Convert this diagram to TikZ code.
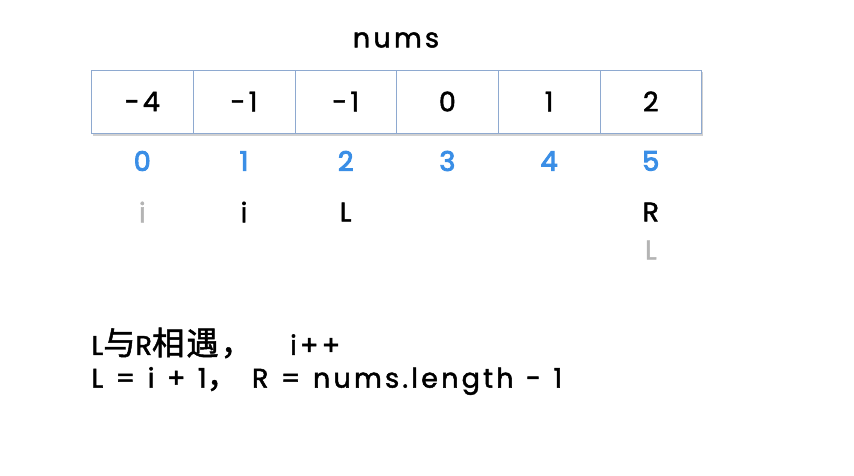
\documentclass[tikz,border=0pt]{standalone}
\usepackage{fontspec}
\setmainfont{Poppins}[LetterSpace=12, WordSpace=1.2, FakeBold=1.8, BoldFont=Poppins, BoldFeatures={FakeBold=3.5}]
\newfontfamily\cjk{Noto Sans CJK SC}[FakeBold=1.5, Scale=1.2, LetterSpace=6]
\usetikzlibrary{positioning,calc}
\definecolor{cellline}{HTML}{8EA9D0}
\definecolor{idxblue}{HTML}{3A8EE6}
\definecolor{ghost}{HTML}{B4B4B4}

\begin{document}
\begin{tikzpicture}[x=1pt, y=-1pt, node distance=10pt]
	\tikzstyle{cell}=[draw=cellline, thin, fill=white, minimum width=101.7pt, minimum height=63pt, inner sep=0pt, font=\fontsize{27}{30}\selectfont]
	\tikzstyle{idx}=[text=idxblue, font=\fontsize{27}{30}\selectfont\bfseries]
	\tikzstyle{ptr}=[text=black, font=\fontsize{27}{30}\selectfont]
	\tikzstyle{old}=[ptr, text=ghost]
	\useasboundingbox (0,0) rectangle (854,476);
	% shadow of the array
	\fill[black!18] (93,72) rectangle (703,136);
	\foreach \v [count=\k from 0] in {-4,-1,-1,0,1,2}{
		\node[cell] (c\k) at ({142.3+101.7*\k},101.5) {\v};
		\node[idx]  (n\k) at ({142.3+101.7*\k},161) {\k};
	}
	\node[font=\fontsize{27}{30}\selectfont] (nums) at (396,40) {nums};
	\node[old] (i0) at (142.3,212) {i};
	\node[ptr] (i1) at (244,212) {i};
	\node[ptr] (L)  at (345.7,212) {L};
	\node[ptr] (R)  at (650.8,212) {R};
	\node[old] (L0) at (650.8,250) {L};
	\node[anchor=west, font=\fontsize{27}{30}\selectfont] (t1) at (88,343) {L{\cjk 与}R{\cjk 相遇，}\ \ \hspace{12pt}i++};
	\node[anchor=west, font=\fontsize{27}{30}\selectfont] (t2) at (88,381) {L = i + 1{\cjk ，}\hspace{13pt}R = nums.length - 1};
\end{tikzpicture}
\end{document}
